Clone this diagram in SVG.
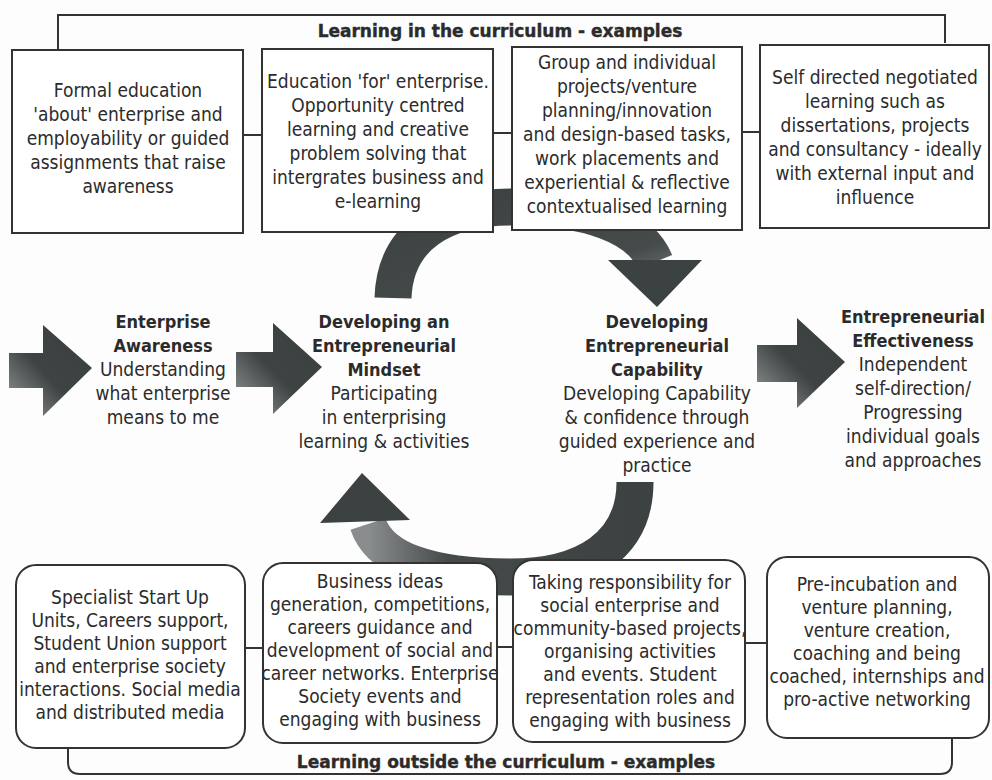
<svg xmlns="http://www.w3.org/2000/svg" width="992" height="780" viewBox="0 0 992 780">
<defs>
<linearGradient id="ag" x1="1" y1="0" x2="0" y2="1">
<stop offset="0" stop-color="#3a3f3f"/>
<stop offset="0.55" stop-color="#3e4343"/>
<stop offset="1" stop-color="#9a9d9d"/>
</linearGradient>
<linearGradient id="tg" x1="0" y1="0" x2="1" y2="1">
<stop offset="0" stop-color="#3c4141"/>
<stop offset="0.7" stop-color="#454a4a"/>
<stop offset="1" stop-color="#7d8181"/>
</linearGradient>
<linearGradient id="bg" x1="1" y1="0" x2="0" y2="0">
<stop offset="0" stop-color="#3c4141"/>
<stop offset="0.7" stop-color="#454a4a"/>
<stop offset="1" stop-color="#8a8d8d"/>
</linearGradient>
<style>
.box{fill:#ffffff;stroke:#333;stroke-width:2}
.ln{fill:none;stroke:#333;stroke-width:2}
.t{font-family:"DejaVu Sans Condensed","DejaVu Sans",sans-serif;font-stretch:condensed;font-size:19px;fill:#2b2b2b;text-anchor:middle}
.b{font-weight:bold;font-size:18px}
.h{font-family:"DejaVu Sans",sans-serif;font-weight:bold;font-size:17px;fill:#2b2b2b;text-anchor:middle;stroke:#2b2b2b;stroke-width:0.4}
</style>
</defs>
<rect width="992" height="780" fill="#fdfdfd"/>

<g id="cycle">
<path d="M 393 298 C 395 235 445 207 512 207 C 585 207 640 225 655 262" fill="none" stroke="url(#tg)" stroke-width="37"/>
<polygon points="608,260 702,260 657,307" fill="#3c4141"/>
<path d="M 635 482 C 635 545 585 577 510 577 C 430 577 380 560 368 524" fill="none" stroke="url(#bg)" stroke-width="37"/>
<polygon points="320,523 410,520 362,473" fill="#3c4141"/>
</g>

<g id="connectors">
<path class="ln" d="M 58 50 V 15 H 945 V 43"/>
<path class="ln" d="M 243 135 H 262 M 493 133 H 512 M 742 132 H 760"/>
<path class="ln" d="M 68 748 V 762 Q 68 774 80 774 H 940 Q 952 774 952 762 V 738"/>
<path class="ln" d="M 245 648 H 263 M 497 647 H 513 M 745 643 H 767"/>
<polygon points="9,353 43,353 43,325 92,368 43,416 43,388 9,388" fill="url(#ag)"/>
<polygon points="236,352 273,352 273,323 322,367 273,414 273,387 236,387" fill="url(#ag)"/>
<polygon points="757,345 797,345 797,318 845,362 797,408 797,382 757,382" fill="url(#ag)"/>
</g>

<text class="h" x="500" y="37">Learning in the curriculum - examples</text>
<text class="h" x="506" y="768">Learning outside the curriculum - examples</text>

<g id="top1">
<rect class="box" x="12" y="50" width="231" height="183"/>
<text class="t" x="128"><tspan x="128" y="97">Formal education</tspan><tspan x="128" y="121">'about' enterprise and</tspan><tspan x="128" y="145">employability or guided</tspan><tspan x="128" y="169">assignments that raise</tspan><tspan x="128" y="193">awareness</tspan></text>
</g>
<g id="top2">
<rect class="box" x="262" y="49" width="231" height="183"/>
<text class="t" x="378"><tspan x="378" y="88">Education 'for' enterprise.</tspan><tspan x="378" y="112">Opportunity centred</tspan><tspan x="378" y="136">learning and creative</tspan><tspan x="378" y="160">problem solving that</tspan><tspan x="378" y="184">intergrates business and</tspan><tspan x="378" y="208">e-learning</tspan></text>
</g>
<g id="top3">
<rect class="box" x="512" y="47" width="230" height="183"/>
<text class="t" x="627"><tspan x="627" y="69">Group and individual</tspan><tspan x="627" y="93">projects/venture</tspan><tspan x="627" y="117">planning/innovation</tspan><tspan x="627" y="141">and design-based tasks,</tspan><tspan x="627" y="165">work placements and</tspan><tspan x="627" y="189">experiential &amp; reflective</tspan><tspan x="627" y="213">contextualised learning</tspan></text>
</g>
<g id="top4">
<rect class="box" x="760" y="45" width="229" height="183"/>
<text class="t" x="875"><tspan x="875" y="84">Self directed negotiated</tspan><tspan x="875" y="108">learning such as</tspan><tspan x="875" y="132">dissertations, projects</tspan><tspan x="875" y="156">and consultancy - ideally</tspan><tspan x="875" y="180">with external input and</tspan><tspan x="875" y="204">influence</tspan></text>
</g>

<g id="awareness">
<text class="t"><tspan class="b" x="163" y="328">Enterprise</tspan><tspan class="b" x="163" y="352">Awareness</tspan><tspan x="163" y="376">Understanding</tspan><tspan x="163" y="400">what enterprise</tspan><tspan x="163" y="424">means to me</tspan></text>
</g>
<g id="mindset">
<text class="t"><tspan class="b" x="384" y="328">Developing an</tspan><tspan class="b" x="384" y="352">Entrepreneurial</tspan><tspan class="b" x="384" y="376">Mindset</tspan><tspan x="384" y="400">Participating</tspan><tspan x="384" y="424">in enterprising</tspan><tspan x="384" y="448">learning &amp; activities</tspan></text>
</g>
<g id="capability">
<text class="t"><tspan class="b" x="657" y="328">Developing</tspan><tspan class="b" x="657" y="352">Entrepreneurial</tspan><tspan class="b" x="657" y="376">Capability</tspan><tspan x="657" y="400">Developing Capability</tspan><tspan x="657" y="424">&amp; confidence through</tspan><tspan x="657" y="448">guided experience and</tspan><tspan x="657" y="472">practice</tspan></text>
</g>
<g id="effectiveness">
<text class="t"><tspan class="b" x="913" y="323">Entrepreneurial</tspan><tspan class="b" x="913" y="347">Effectiveness</tspan><tspan x="913" y="371">Independent</tspan><tspan x="913" y="395">self-direction/</tspan><tspan x="913" y="419">Progressing</tspan><tspan x="913" y="443">individual goals</tspan><tspan x="913" y="467">and approaches</tspan></text>
</g>

<g id="bottom1">
<rect class="box" x="16" y="565" width="229" height="183" rx="20"/>
<text class="t"><tspan x="130" y="604">Specialist Start Up</tspan><tspan x="130" y="627">Units, Careers support,</tspan><tspan x="130" y="650">Student Union support</tspan><tspan x="130" y="673">and enterprise society</tspan><tspan x="130" y="696">interactions. Social media</tspan><tspan x="130" y="719">and distributed media</tspan></text>
</g>
<g id="bottom2">
<rect class="box" x="263" y="563" width="234" height="180" rx="20"/>
<text class="t"><tspan x="380" y="588">Business ideas</tspan><tspan x="380" y="611">generation, competitions,</tspan><tspan x="380" y="634">careers guidance and</tspan><tspan x="380" y="657">development of social and</tspan><tspan x="380" y="680">career networks. Enterprise</tspan><tspan x="380" y="703">Society events and</tspan><tspan x="380" y="726">engaging with business</tspan></text>
</g>
<g id="bottom3">
<rect class="box" x="513" y="560" width="232" height="182" rx="20"/>
<text class="t"><tspan x="630" y="589">Taking responsibility for</tspan><tspan x="630" y="612">social enterprise and</tspan><tspan x="630" y="635">community-based projects,</tspan><tspan x="630" y="658">organising activities</tspan><tspan x="630" y="681">and events. Student</tspan><tspan x="630" y="704">representation roles and</tspan><tspan x="630" y="727">engaging with business</tspan></text>
</g>
<g id="bottom4">
<rect class="box" x="767" y="557" width="222" height="181" rx="20"/>
<text class="t"><tspan x="877" y="591">Pre-incubation and</tspan><tspan x="877" y="614">venture planning,</tspan><tspan x="877" y="637">venture creation,</tspan><tspan x="877" y="660">coaching and being</tspan><tspan x="877" y="683">coached, internships and</tspan><tspan x="877" y="706">pro-active networking</tspan></text>
</g>
</svg>
